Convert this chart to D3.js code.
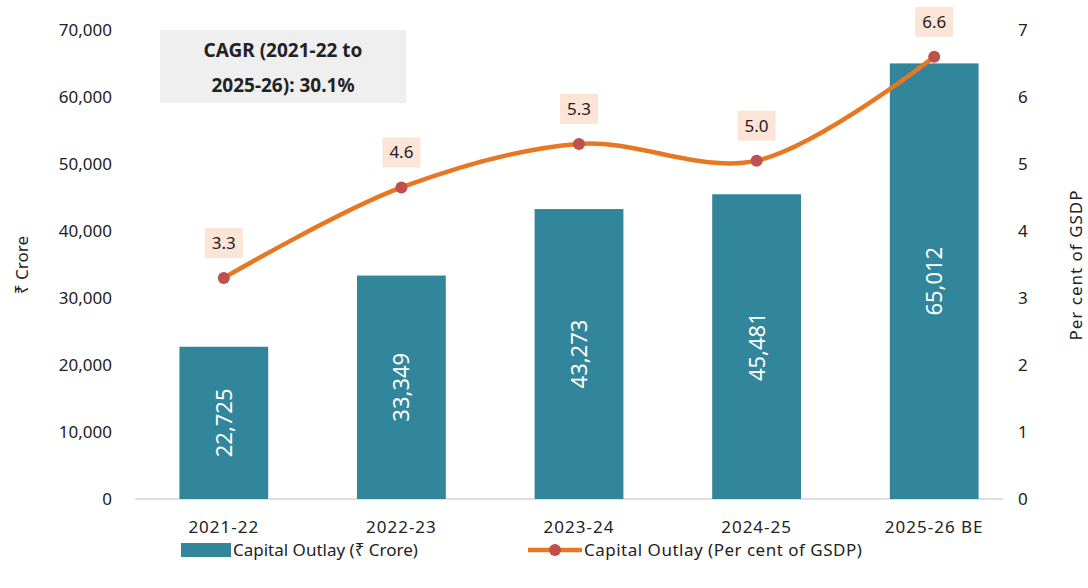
<!DOCTYPE html>
<html><head><meta charset="utf-8">
<script src="https://cdn.jsdelivr.net/npm/d3@7"></script>
<style>
body{margin:0;background:#fff;font-family:"Noto Sans",sans-serif;}
text{fill:#222;}
</style></head>
<body><svg id="chart"></svg>
<script>
var years = ['2021-22','2022-23','2023-24','2024-25','2025-26 BE'];
var outlay = [22725,33349,43273,45481,65012];
var pctGSDP = [3.3,4.65,5.3,5.05,6.6];
var pctLabels = ['3.3','4.6','5.3','5.0','6.6'];
var leftTicks = [0,10000,20000,30000,40000,50000,60000,70000];
var rightTicks = [0,1,2,3,4,5,6,7];

var svgWidth = 1088, svgHeight = 588;
var plot = {left:135, right:1023, top:30, bottom:499};

var svg = d3.select('#chart').attr('width',svgWidth).attr('height',svgHeight);

var x = d3.scaleBand().domain(years).range([plot.left,plot.right]).paddingInner(0.5).paddingOuter(0.25);
var yL = d3.scaleLinear().domain([0,70000]).range([plot.bottom,plot.top]);
var yR = d3.scaleLinear().domain([0,7]).range([plot.bottom,plot.top]);

// axes
var fmt = d3.format(',');
var gl = svg.append('g').attr('transform','translate('+(plot.left-20)+',0)')
  .call(d3.axisLeft(yL).tickValues(leftTicks).tickFormat(fmt).tickSize(0));
gl.select('.domain').remove();
gl.selectAll('text').attr('font-size',17).attr('font-family','Noto Sans').attr('fill','#222');

var gr = svg.append('g').attr('transform','translate('+(plot.right-8)+',0)')
  .call(d3.axisRight(yR).tickValues(rightTicks).tickFormat(d3.format('d')).tickSize(0));
gr.select('.domain').remove();
gr.selectAll('text').attr('font-size',17).attr('font-family','Noto Sans').attr('fill','#222');

svg.append('line').attr('x1',plot.left).attr('x2',plot.right-20)
  .attr('y1',plot.bottom).attr('y2',plot.bottom).attr('stroke','#bfbfbf');

var gx = svg.append('g').attr('transform','translate(0,'+(plot.bottom+14)+')')
  .call(d3.axisBottom(x).tickSize(0));
gx.select('.domain').remove();
gx.selectAll('text').attr('font-size',17).attr('font-family','Noto Sans').attr('fill','#222').attr('dy','1em').style('letter-spacing','1px');

// bars
svg.selectAll('.bar').data(outlay).enter().append('rect')
  .attr('x',(d,i)=>x(years[i])).attr('width',x.bandwidth())
  .attr('y',d=>yL(d)).attr('height',d=>plot.bottom-yL(d))
  .attr('fill','#31869b');

svg.selectAll('.barLabel').data(outlay).enter().append('text')
  .attr('transform',(d,i)=>'translate('+(x(years[i])+x.bandwidth()/2+8)+','+(plot.bottom-(plot.bottom-yL(d))/2)+')rotate(-90)')
  .attr('text-anchor','middle').attr('font-size',22).style('fill','#fff')
  .text(d=>fmt(d));

// line
var pts = pctGSDP.map((d,i)=>[x(years[i])+x.bandwidth()/2, yR(d)]);
svg.append('path').attr('d',d3.line().curve(d3.curveCatmullRom.alpha(0.5))(pts))
  .attr('fill','none').attr('stroke','#e87722').attr('stroke-width',4.5);
svg.selectAll('.dot').data(pts).enter().append('circle')
  .attr('cx',d=>d[0]).attr('cy',d=>d[1]).attr('r',6).attr('fill','#c0504d');

pts.forEach(function(p,i){
  svg.append('rect').attr('x',p[0]-19).attr('y',p[1]-50).attr('width',38).attr('height',30).attr('fill','#fce4d6');
  svg.append('text').attr('x',p[0]).attr('y',p[1]-29).attr('text-anchor','middle').attr('font-size',17).text(pctLabels[i]);
});

// CAGR box
svg.append('rect').attr('x',160).attr('y',30).attr('width',246).attr('height',73).attr('fill','#efefef');
svg.append('text').attr('x',283).attr('y',57).attr('text-anchor','middle').attr('font-size',19).attr('font-weight','bold').text('CAGR (2021-22 to');
svg.append('text').attr('x',283).attr('y',92).attr('text-anchor','middle').attr('font-size',19).attr('font-weight','bold').text('2025-26): 30.1%');

// axis titles
svg.append('text').attr('transform','translate(28,265)rotate(-90)').attr('text-anchor','middle').attr('font-size',17).text('₹ Crore');
svg.append('text').attr('transform','translate(1082,265)rotate(-90)').attr('text-anchor','middle').attr('font-size',17).style('letter-spacing','1px').text('Per cent of GSDP');

// legend
var lg = svg.append('g').attr('transform','translate(0,550)');
lg.append('rect').attr('x',181).attr('y',-7).attr('width',50).attr('height',14).attr('fill','#31869b');
lg.append('text').attr('x',233).attr('y',6).attr('font-size',17).text('Capital Outlay (₹ Crore)');
lg.append('line').attr('x1',528).attr('x2',582).attr('y1',0).attr('y2',0).attr('stroke','#e87722').attr('stroke-width',4.5);
lg.append('circle').attr('cx',555).attr('cy',0).attr('r',6).attr('fill','#c0504d');
lg.append('text').attr('x',584).attr('y',6).attr('font-size',17).style('letter-spacing','0.5px').text('Capital Outlay (Per cent of GSDP)');
</script></body></html>
